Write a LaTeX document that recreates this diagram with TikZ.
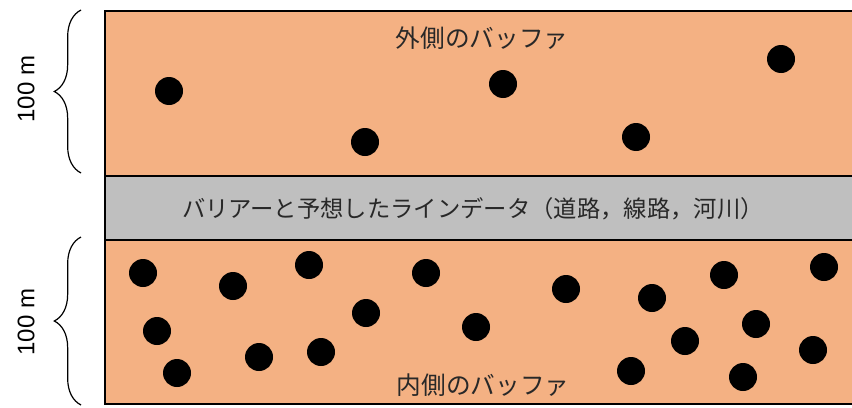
\documentclass[tikz,border=0pt]{standalone}
\usepackage{fontspec}
\setmainfont{Liberation Sans}
\newfontfamily\jpfont{Noto Sans CJK JP}
\usetikzlibrary{decorations.pathreplacing}
\definecolor{bandorange}{RGB}{244,177,131}
\definecolor{bandgray}{RGB}{191,191,191}
\definecolor{txtgray}{RGB}{40,40,40}
\begin{document}
\begin{tikzpicture}[x=0.75pt,y=-0.75pt,
  dot/.style={circle,fill=black,inner sep=0pt,minimum size=21pt},
  band/.style={draw=black,line width=2.2pt},
  jplabel/.style={font=\jpfont\fontsize{18.5}{20}\selectfont,text=txtgray,inner sep=0pt},
  jpbar/.style={font=\jpfont\fontsize{17.5}{20}\selectfont,text=txtgray,inner sep=0pt},
  dist/.style={font=\fontsize{18}{20}\selectfont,rotate=90,inner sep=0pt},
  bracestyle/.style={draw=black,line width=0.9pt,decorate,decoration={brace,amplitude=20pt}}]
\useasboundingbox (0,0) rectangle (852,407);
\clip (0,0) rectangle (852,407);
% bands
\fill[bandorange] (105,11) rectangle (880,176);
\fill[bandgray] (105,176) rectangle (880,240);
\fill[bandorange] (105,240) rectangle (880,404);
\draw[band] (880,11) -- (105,11) -- (105,404) -- (880,404);
\draw[band] (105,176) -- (880,176);
\draw[band] (105,240) -- (880,240);
% labels
\node[jplabel] (outer) at (482,38) {外側のバッファ};
\node[jpbar] (barrier) at (473,209) {バリアーと予想したラインデータ（道路，線路，河川）};
\node[jplabel] (inner) at (483,385) {内側のバッファ};
% braces and distances
\draw[bracestyle] (81,173) -- (81,10);
\draw[bracestyle] (81,405) -- (81,237);
\node[dist] (d1) at (26,89) {100 m};
\node[dist] (d2) at (26,322) {100 m};
% outer dots
\node[dot] (o1) at (169,91) {};
\node[dot] (o2) at (365,142) {};
\node[dot] (o3) at (503,84) {};
\node[dot] (o4) at (636,137) {};
\node[dot] (o5) at (781,59) {};
% inner dots
\node[dot] (i1) at (143,273) {};
\node[dot] (i2) at (233,286) {};
\node[dot] (i3) at (309,265) {};
\node[dot] (i4) at (426,273) {};
\node[dot] (i5) at (157,331) {};
\node[dot] (i6) at (366,313) {};
\node[dot] (i7) at (177,373) {};
\node[dot] (i8) at (259,357) {};
\node[dot] (i9) at (321,352) {};
\node[dot] (i10) at (476,327) {};
\node[dot] (i11) at (566,289) {};
\node[dot] (i12) at (652,298) {};
\node[dot] (i13) at (724,275) {};
\node[dot] (i14) at (824,267) {};
\node[dot] (i15) at (685,341) {};
\node[dot] (i16) at (756,324) {};
\node[dot] (i17) at (813,350) {};
\node[dot] (i18) at (631,371) {};
\node[dot] (i19) at (743,377) {};
\end{tikzpicture}
\end{document}
